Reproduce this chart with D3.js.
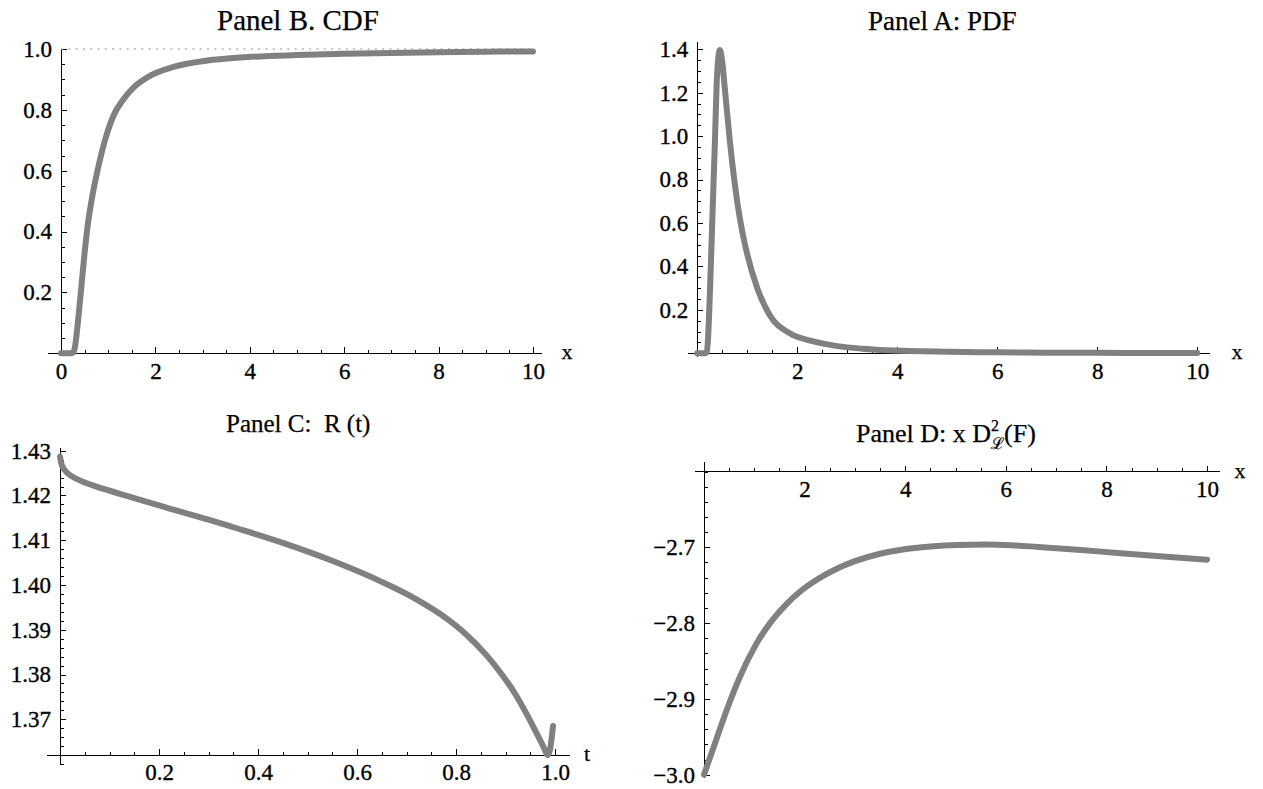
<!DOCTYPE html>
<meta charset="utf-8">
<style>
    body {
        margin: 0;
        background: #fff;
    }

    text {
        font-family: "Liberation Serif", "Times New Roman", serif;
        fill: #000;
        stroke: #000;
        stroke-width: 0.25px;
    }

    .tick text {
        font-family: "Liberation Serif", "Times New Roman", serif;
        font-size: 23px;
        stroke-width: 0.35px;
    }

    .tick line,
    line.axisLine {
        stroke: #000;
        stroke-width: 1px;
        shape-rendering: crispEdges;
    }

    .title {
        white-space: pre;
    }

    .varLabel {
        font-size: 22px;
    }

    path.curve {
        fill: none;
        stroke: #808080;
        stroke-width: 6px;
        stroke-linejoin: round;
        stroke-linecap: round;
    }

    line.refLine {
        stroke: #b4b4b4;
        stroke-width: 1.5px;
        stroke-dasharray: 2 5.3;
    }
</style>

<body>
    <script src="https://d3js.org/d3.v7.min.js"></script>
    <script>

        // Panel B: CDF
        var cdfX = [0, 0.2, 0.26, 0.3, 0.35, 0.42, 0.5, 0.57, 0.65, 0.78, 0.95, 1.14, 1.3, 1.54, 1.9, 2.4, 3.1, 3.8, 5, 6, 7, 8, 9, 10];
        var cdfY = [0, 0, 0.003, 0.025, 0.09, 0.2, 0.33, 0.425, 0.505, 0.605, 0.71, 0.79, 0.83, 0.874, 0.913, 0.942, 0.962, 0.972, 0.98, 0.984, 0.987, 0.989, 0.991, 0.992];

        // Panel A: PDF
        var pdfX = [0, 0.15, 0.19, 0.215, 0.24, 0.287, 0.32, 0.353, 0.387, 0.42, 0.453, 0.5, 0.55, 0.6, 0.65, 0.7, 0.75, 0.8, 0.9, 1.0, 1.2, 1.45, 1.85, 2.3, 2.8, 3.3, 3.8, 4.5, 5, 6, 7, 8, 9, 10];
        var pdfY = [0, 0, 0.005, 0.07, 0.2, 0.52, 0.75, 0.98, 1.24, 1.36, 1.397, 1.34, 1.22, 1.1, 0.98, 0.875, 0.78, 0.695, 0.56, 0.455, 0.3, 0.175, 0.092, 0.056, 0.033, 0.021, 0.014, 0.009, 0.007, 0.0045, 0.003, 0.002, 0.0015, 0.001];

        // Panel C: R(t)
        var rT = [0, 0.003, 0.01, 0.025, 0.05, 0.09, 0.15, 0.215, 0.3, 0.35, 0.45, 0.55, 0.65, 0.72, 0.78, 0.82, 0.86, 0.89, 0.92, 0.945, 0.96, 0.972, 0.979, 0.985, 0.99, 0.996];
        var rV = [1.4287, 1.4270, 1.4256, 1.4242, 1.4229, 1.4214, 1.4194, 1.4173, 1.4146, 1.4129, 1.4094, 1.4054, 1.4007, 1.3968, 1.3926, 1.3890, 1.3845, 1.3804, 1.3756, 1.3707, 1.3675, 1.3649, 1.3633, 1.3620, 1.3633, 1.3685];

        // Panel D: x D^2_L(F)
        var dX = [0, 0.25, 0.45, 0.71, 1.04, 1.37, 1.64, 1.9, 2.29, 2.65, 3.0, 3.5, 3.95, 4.5, 5.06, 5.6, 6.1, 6.64, 7.5, 8.22, 9.0, 10.0];
        var dV = [-3.000, -2.9525, -2.915, -2.8714, -2.8274, -2.7951, -2.7749, -2.7590, -2.7409, -2.7280, -2.7183, -2.7085, -2.7028, -2.6989, -2.6969, -2.6964, -2.6972, -2.6995, -2.7035, -2.7075, -2.7115, -2.7163];

        // tick labels
        var cdfXTicks = [0, 2, 4, 6, 8, 10];
        var cdfYTicks = [0.2, 0.4, 0.6, 0.8, 1.0];
        var pdfXTicks = [2, 4, 6, 8, 10];
        var pdfYTicks = [0.2, 0.4, 0.6, 0.8, 1.0, 1.2, 1.4];
        var rXTicks = [0.2, 0.4, 0.6, 0.8, 1.0];
        var rYTicks = [1.37, 1.38, 1.39, 1.40, 1.41, 1.42, 1.43];
        var dXTicks = [2, 4, 6, 8, 10];
        var dYTicks = [-3.0, -2.9, -2.8, -2.7];

        function steps(start, step, n) {
            return d3.range(n).map(function (i) { return +(start + i * step).toFixed(4); });
        }

        var svg = d3.select("body")
            .append("svg")
            .attr("width", 1263)
            .attr("height", 789);

        function drawPanel(p) {
            var g = svg.append("g");

            var x = d3.scaleLinear().domain(p.xDomain).range(p.xRange);
            var y = d3.scaleLinear().domain(p.yDomain).range(p.yRange);

            var axisY = y(p.xAxisAt),
                axisX = x(p.yAxisAt);

            /* ------- MINOR TICKS -------*/
            g.append("g")
                .attr("transform", "translate(0," + axisY + ")")
                .call(d3.axisBottom(x).tickValues(p.xMinor).tickSize(-3.5).tickFormat(""))
                .select(".domain").remove();
            g.append("g")
                .attr("transform", "translate(" + axisX + ",0)")
                .call(d3.axisLeft(y).tickValues(p.yMinor).tickSize(-3.5).tickFormat(""))
                .select(".domain").remove();

            /* ------- MAJOR TICKS -------*/
            var xa = g.append("g")
                .attr("transform", "translate(0," + axisY + ")")
                .call(d3.axisBottom(x).tickValues(p.xTicks).tickSize(-6).tickPadding(9).tickFormat(d3.format(p.xFormat)));
            xa.select(".domain").remove();
            xa.attr("font-size", null).attr("font-family", null);

            var ya = g.append("g")
                .attr("transform", "translate(" + axisX + ",0)")
                .call(d3.axisLeft(y).tickValues(p.yTicks).tickSize(-6).tickPadding(9).tickFormat(d3.format(p.yFormat)));
            ya.select(".domain").remove();
            ya.attr("font-size", null).attr("font-family", null);

            /* ------- AXIS LINES -------*/
            g.append("line").attr("class", "axisLine")
                .attr("x1", x(p.xLine[0])).attr("x2", x(p.xLine[1]))
                .attr("y1", Math.round(axisY) + 0.5).attr("y2", Math.round(axisY) + 0.5);
            g.append("line").attr("class", "axisLine")
                .attr("x1", Math.round(axisX) + 0.5).attr("x2", Math.round(axisX) + 0.5)
                .attr("y1", y(p.yLine[0])).attr("y2", y(p.yLine[1]));

            if (p.refLine !== undefined) {
                g.append("line").attr("class", "refLine")
                    .attr("x1", x(0)).attr("x2", x(p.xDomain[1]))
                    .attr("y1", y(p.refLine)).attr("y2", y(p.refLine));
            }

            /* ------- CURVE -------*/
            var line = d3.line()
                .x(function (d) { return x(d[0]); })
                .y(function (d) { return y(d[1]); })
                .curve(d3.curveMonotoneX);

            g.append("path")
                .attr("class", "curve")
                .attr("d", line(d3.zip(p.xs, p.ys)));

            /* ------- LABELS -------*/
            g.append("text")
                .attr("class", "varLabel")
                .attr("x", p.varX)
                .attr("y", axisY + 6)
                .attr("text-anchor", "middle")
                .text(p.varName);

            var title = g.append("text")
                .attr("class", "title")
                .attr("font-size", p.titleSize)
                .attr("x", p.titleX)
                .attr("y", p.titleY);
            p.title(title);
        }

        drawPanel({
            xs: cdfX, ys: cdfY,
            xDomain: [0, 10], xRange: [61, 533],
            yDomain: [0, 1], yRange: [353.3, 49],
            xAxisAt: 0, yAxisAt: 0,
            xLine: [-0.27, 10.2], yLine: [0, 1],
            xTicks: cdfXTicks, yTicks: cdfYTicks,
            xMinor: steps(0, 0.5, 21), yMinor: steps(0, 0.05, 21),
            xFormat: "d", yFormat: ".1f",
            refLine: 1,
            varName: "x", varX: 567,
            titleX: 217, titleY: 30, titleSize: 29,
            title: function (t) { t.text("Panel B. CDF"); }
        });

        drawPanel({
            xs: pdfX, ys: pdfY,
            xDomain: [0, 10], xRange: [697.3, 1197.3],
            yDomain: [0, 1.4], yRange: [353.3, 49.3],
            xAxisAt: 0, yAxisAt: 0,
            xLine: [-0.18, 10.25], yLine: [-0.015, 1.435],
            xTicks: pdfXTicks, yTicks: pdfYTicks,
            xMinor: steps(0, 0.5, 21), yMinor: steps(0, 0.05, 29),
            xFormat: "d", yFormat: ".1f",
            varName: "x", varX: 1237,
            titleX: 868, titleY: 30, titleSize: 27,
            title: function (t) { t.text("Panel A: PDF"); }
        });

        drawPanel({
            xs: rT, ys: rV,
            xDomain: [0, 1], xRange: [60, 555],
            yDomain: [1.37, 1.43], yRange: [719.3, 450.7],
            xAxisAt: 1.362, yAxisAt: 0,
            xLine: [-0.026, 1.03], yLine: [1.36, 1.4306],
            xTicks: rXTicks, yTicks: rYTicks,
            xMinor: steps(0, 0.05, 21), yMinor: steps(1.36, 0.002, 36),
            xFormat: ".1f", yFormat: ".2f",
            varName: "t", varX: 587,
            titleX: 226, titleY: 432, titleSize: 25,
            title: function (t) { t.text("Panel C:  R (t)"); }
        });

        drawPanel({
            xs: dX, ys: dV,
            xDomain: [0, 10], xRange: [704, 1207],
            yDomain: [-3.0, -2.7], yRange: [774.7, 547.3],
            xAxisAt: -2.6, yAxisAt: 0,
            xLine: [-0.18, 10.25], yLine: [-3.005, -2.587],
            xTicks: dXTicks, yTicks: dYTicks,
            xMinor: steps(0, 0.5, 21), yMinor: steps(-3.0, 0.02, 21),
            xFormat: "d", yFormat: ".1f",
            varName: "x", varX: 1240,
            titleX: 856, titleY: 442, titleSize: 26,
            title: function (t) {
                t.append("tspan").text("Panel D: x D");
                t.append("tspan").attr("font-size", 16).attr("dy", -11).text("2");
                t.append("tspan").attr("font-size", 16).attr("dx", -8).attr("dy", 18).text("ℒ");
                t.append("tspan").attr("dy", -7).text("(F)");
            }
        });

    </script>
</body>
